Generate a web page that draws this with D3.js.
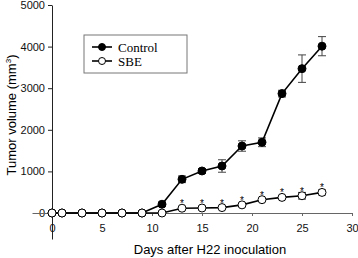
<!DOCTYPE html>
<html>
<head>
<meta charset="utf-8">
<script src="https://cdn.jsdelivr.net/npm/d3@7"></script>
<style>
  body { margin: 0; background: #fff; }
  text { font-family: "Liberation Sans", Arial, sans-serif; }
</style>
</head>
<body>
<div id="chart"></div>
<script>
// data
var days        = [0, 1, 3, 5, 7, 9, 11, 13, 15, 17, 19, 21, 23, 25, 27];
var controlMean = [0, 0, 0, 0, 0, 0, 210, 810, 1010, 1130, 1610, 1700, 2870, 3470, 4010];
var controlErr  = [0, 0, 0, 0, 0, 0, 50, 80, 60, 150, 125, 105, 80, 330, 230];
var sbeMean     = [0, 0, 0, 0, 0, 0, 0, 115, 120, 130, 195, 320, 375, 415, 495];
var sbeErr      = [0, 0, 0, 0, 0, 0, 0, 20, 20, 20, 30, 30, 40, 80, 60];
var starDays    = [13, 15, 17, 19, 21, 23, 25, 27];
var xTicks      = [0, 5, 10, 15, 20, 25, 30];
var yTicks      = [0, 1000, 2000, 3000, 4000, 5000];

var width = 358, height = 258;

var svg = d3.select("#chart")
    .append("svg")
        .attr("width", width)
        .attr("height", height);

var x = d3.scaleLinear().domain([-2, 30]).range([32, 352]);
var y = d3.scaleLinear().domain([-625, 5000]).range([239, 5]);

// axes cross at (0,0)
var yAxis = svg.append("g")
    .attr("transform", "translate(" + x(0) + ",0)")
    .call(d3.axisLeft(y).tickValues(yTicks).tickFormat(d3.format("d"))
        .tickSize(4).tickSizeOuter(0).tickPadding(3));
yAxis.selectAll("text").style("font-size", "11px").style("fill", "#111");
yAxis.selectAll("path, line").attr("stroke", "#222");

var xAxis = svg.append("g")
    .attr("transform", "translate(0," + y(0) + ")")
    .call(d3.axisBottom(x).tickValues(xTicks).tickFormat(d3.format("d"))
        .tickSize(3).tickSizeOuter(0).tickPadding(8));
xAxis.selectAll("text").style("font-size", "11px").style("fill", "#111");
xAxis.selectAll("path, line").attr("stroke", "#666");

var series = [
    { name: "Control", mean: controlMean, err: controlErr, fill: "#000" },
    { name: "SBE", mean: sbeMean, err: sbeErr, fill: "#fff" }
];

var line = d3.line()
    .x(function(d) { return x(d.day); })
    .y(function(d) { return y(d.v); });

series.forEach(function(s) {
    var pts = days.map(function(d, i) { return { day: d, v: s.mean[i], e: s.err[i] }; });

    // error bars
    var eb = svg.append("g").attr("stroke", "#444").attr("stroke-width", 1);
    pts.filter(function(d) { return d.e > 0; }).forEach(function(d) {
        eb.append("line").attr("x1", x(d.day)).attr("x2", x(d.day))
            .attr("y1", y(d.v - d.e)).attr("y2", y(d.v + d.e));
        [d.v - d.e, d.v + d.e].forEach(function(v) {
            eb.append("line").attr("x1", x(d.day) - 4).attr("x2", x(d.day) + 4)
                .attr("y1", y(v)).attr("y2", y(v));
        });
    });

    svg.append("path")
        .datum(pts)
        .attr("fill", "none")
        .attr("stroke", "#000")
        .attr("stroke-width", 1.6)
        .attr("d", line);

    s.pts = pts;
});

// markers drawn after both lines
series.forEach(function(s) {
    svg.selectAll(null)
        .data(s.pts)
        .enter().append("circle")
        .attr("cx", function(d) { return x(d.day); })
        .attr("cy", function(d) { return y(d.v); })
        .attr("r", 4)
        .attr("fill", s.fill)
        .attr("stroke", "#000")
        .attr("stroke-width", 1);
});

// significance stars above SBE
svg.selectAll(".star")
    .data(starDays)
    .enter().append("text")
    .attr("class", "star")
    .attr("x", function(d) { return x(d); })
    .attr("y", function(d) { return y(sbeMean[days.indexOf(d)]) - 1; })
    .attr("text-anchor", "middle")
    .attr("fill", "#000")
    .style("font-size", "10px")
    .text("*");

// legend
var legend = svg.append("g");
legend.append("rect")
    .attr("x", 84).attr("y", 35).attr("width", 103).attr("height", 38)
    .attr("fill", "#fff").attr("stroke", "#777").attr("stroke-width", 1);
series.forEach(function(s, i) {
    var ly = 47 + i * 14;
    legend.append("line").attr("x1", 92).attr("x2", 112).attr("y1", ly).attr("y2", ly)
        .attr("stroke", "#000").attr("stroke-width", 1.6);
    legend.append("circle").attr("cx", 102).attr("cy", ly).attr("r", 3.5)
        .attr("fill", s.fill).attr("stroke", "#000");
    legend.append("text").attr("x", 118).attr("y", ly + 4.5)
        .attr("fill", "#000")
        .style("font-family", "'Liberation Serif', 'Times New Roman', serif")
        .style("font-size", "13px")
        .text(s.name);
});

// axis titles
svg.append("text")
    .attr("x", 210).attr("y", 254)
    .attr("text-anchor", "middle")
    .attr("fill", "#000")
    .style("font-size", "13px")
    .text("Days after H22 inoculation");

var yt = svg.append("text")
    .attr("transform", "translate(16,115) rotate(-90)")
    .attr("text-anchor", "middle")
    .attr("fill", "#000")
    .style("font-size", "13px");
yt.append("tspan").text("Tumor volume (mm");
yt.append("tspan").attr("dy", -5).style("font-size", "8px").text("3");
yt.append("tspan").attr("dy", 5).text(")");
</script>
</body>
</html>
